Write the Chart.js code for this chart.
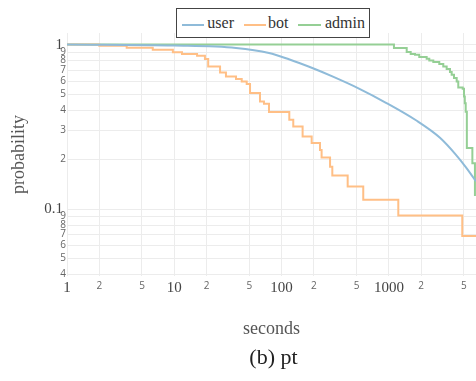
<!DOCTYPE html>
<html>
<head>
<meta charset="utf-8">
<script src="https://cdn.jsdelivr.net/npm/chart.js@4/dist/chart.umd.min.js"></script>
<style>
  html, body { margin: 0; padding: 0; background: #fff; }
  #wrap { position: relative; width: 476px; height: 381px; overflow: hidden; }
  #c { position: absolute; left: 0; top: 0; }
  #legend { position: absolute; left: 176px; top: 8px; width: 192px; height: 28px; border: 1px solid #444; background: #fff;
            font-family: "Liberation Serif", serif; font-size: 16px; color: #333; }
  #legend .ln { position: absolute; top: 14.7px; height: 2px; }
  #legend .tx { position: absolute; top: 0; line-height: 28px; white-space: nowrap; }
  #caption { position: absolute; left: 273.5px; top: 344px; transform: translateX(-50%); font-family: "Liberation Serif", serif;
             font-size: 22px; line-height: 26px; color: #222; white-space: nowrap; }
</style>
</head>
<body>
<div id="wrap">
  <canvas id="c" width="476" height="381"></canvas>
  <div id="legend"></div>
  <div id="caption">(b) pt</div>
</div>
<script>
// ---- data ----
const seriesNames = ["user", "bot", "admin"];
const seriesColors = ["#8fbbd9", "#ffbf86", "#95cf95"];

const userT = [1, 10, 37.6, 76.3, 117, 196, 301, 526, 940, 1789, 2995, 4221, 5231, 6486, 8035];
const userP = [1, 0.986, 0.9535, 0.889, 0.814, 0.7175, 0.638, 0.540, 0.443, 0.3466, 0.2713, 0.2137, 0.1794, 0.1474, 0.1203];

const botT = [1, 2, 3.6, 6.3, 9.7, 11.8, 16.3, 19.3, 20.7, 26.7, 30.3, 37.6, 42.5, 47.3, 50.8, 62.9, 68.5, 76.3, 118, 128.5, 157, 190.7, 228, 236, 283, 297, 413, 577, 1224, 4831, 7000];
const botP = [1, 0.985, 0.958, 0.931, 0.897, 0.877, 0.856, 0.817, 0.737, 0.677, 0.640, 0.617, 0.597, 0.576, 0.508, 0.451, 0.437, 0.389, 0.349, 0.318, 0.276, 0.252, 0.229, 0.206, 0.181, 0.160, 0.137, 0.1138, 0.0913, 0.0687, 0.0687];

const adminT = [1, 1115, 1466, 1597, 1751, 1920, 2250, 2381, 2595, 2950, 3214, 3456, 3710, 3848, 4043, 4285, 4434, 4873, 5012, 5100, 5200, 5330, 6000, 6340];
const adminP = [1, 0.953, 0.902, 0.877, 0.868, 0.840, 0.821, 0.801, 0.784, 0.762, 0.737, 0.710, 0.681, 0.656, 0.626, 0.597, 0.549, 0.539, 0.484, 0.44, 0.39, 0.235, 0.19, 0.12];

const xTickValues = [1, 2, 5, 10, 20, 50, 100, 200, 500, 1000, 2000, 5000];
const xTickLabels = ["1", "2", "5", "10", "2", "5", "100", "2", "5", "1000", "2", "5"];
const yTickValues = [1, 0.9, 0.8, 0.7, 0.6, 0.5, 0.4, 0.3, 0.2, 0.1, 0.09, 0.08, 0.07, 0.06, 0.05, 0.04];
const yTickLabels = ["1", "9", "8", "7", "6", "5", "4", "3", "2", "0.1", "9", "8", "7", "6", "5", "4"];

const xRange = [1, 6486];
const yRange = [0.0392, 1.176];

// ---- helpers ----
const toPts = (t, p) => t.map((v, i) => ({ x: v, y: p[i] }));
const isMajor = v => Math.abs(Math.log10(v) - Math.round(Math.log10(v))) < 1e-6;
const majorFont = { family: "'Liberation Serif', serif", size: 15 };
const minorFont = { family: "'Open Sans', sans-serif", size: 10, lineHeight: 1.4 };
function labelFor(values, labels, v) {
  const i = values.findIndex(a => Math.abs(a - v) / a < 1e-6);
  return i >= 0 ? labels[i] : "";
}

const datasets = [
  { label: seriesNames[0], data: toPts(userT, userP), borderColor: seriesColors[0], cubicInterpolationMode: "monotone" },
  { label: seriesNames[1], data: toPts(botT, botP), borderColor: seriesColors[1], stepped: "before" },
  { label: seriesNames[2], data: toPts(adminT, adminP), borderColor: seriesColors[2], stepped: "before" }
].map(d => Object.assign({ borderWidth: 2, pointRadius: 0, fill: false }, d));

new Chart(document.getElementById("c"), {
  type: "line",
  data: { datasets },
  options: {
    responsive: false,
    animation: false,
    devicePixelRatio: 1,
    layout: { padding: { top: 33, left: 0, right: 0, bottom: 0 } },
    plugins: { legend: { display: false }, tooltip: { enabled: false } },
    scales: {
      x: {
        type: "logarithmic",
        min: xRange[0], max: xRange[1],
        border: { display: false },
        grid: { color: "#ececec", lineWidth: 1, drawTicks: false },
        afterBuildTicks: s => { s.ticks = xTickValues.map(v => ({ value: v })); },
        afterFit: s => { s.height = 105; },
        ticks: {
          autoSkip: false, maxRotation: 0, padding: 3,
          callback: v => labelFor(xTickValues, xTickLabels, v),
          font: ctx => (ctx.tick && isMajor(ctx.tick.value)) ? majorFont : minorFont,
          color: ctx => (ctx.tick && isMajor(ctx.tick.value)) ? "#444" : "#666"
        },
        title: { display: true, text: "seconds", color: "#555",
                 font: { family: "'Liberation Serif', serif", size: 18 }, padding: { bottom: 41, top: 0 } }
      },
      y: {
        type: "logarithmic",
        min: yRange[0], max: yRange[1],
        border: { display: false },
        grid: { color: "#ececec", lineWidth: 1, drawTicks: false },
        afterBuildTicks: s => { s.ticks = yTickValues.map(v => ({ value: v })); },
        afterFit: s => { s.width = 67; },
        ticks: {
          autoSkip: false, padding: 1,
          callback: v => { const l = labelFor(yTickValues, yTickLabels, v); return isMajor(v) ? l + "\u2009" : l; },
          font: ctx => (ctx.tick && isMajor(ctx.tick.value)) ? majorFont : minorFont,
          color: ctx => (ctx.tick && isMajor(ctx.tick.value)) ? "#444" : "#666"
        },
        title: { display: true, text: "probability", color: "#555",
                 font: { family: "'Liberation Serif', serif", size: 18 }, padding: { top: 8, bottom: 0 } }
      }
    }
  }
});

// legend (HTML overlay, boxed like the reference)
const legendPos = [{ line: 4.7, w: 22.6, text: 30.3 }, { line: 66.5, w: 22, text: 91 }, { line: 121.3, w: 23, text: 148 }];
const lg = document.getElementById("legend");
seriesNames.forEach((n, i) => {
  const ln = document.createElement("div");
  ln.className = "ln";
  ln.style.left = legendPos[i].line + "px";
  ln.style.width = legendPos[i].w + "px";
  ln.style.background = seriesColors[i];
  lg.appendChild(ln);
  const tx = document.createElement("span");
  tx.className = "tx";
  tx.style.left = legendPos[i].text + "px";
  tx.textContent = n;
  lg.appendChild(tx);
});
</script>
</body>
</html>
